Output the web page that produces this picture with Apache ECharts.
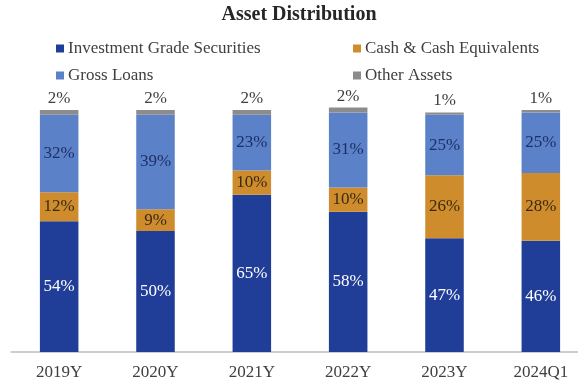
<!DOCTYPE html>
<html>
<head>
<meta charset="utf-8">
<script src="https://cdn.jsdelivr.net/npm/echarts@6/dist/echarts.min.js"></script>
<style>
  html, body { margin: 0; padding: 0; background: #ffffff; overflow: hidden; }
  /* the plot continues a little past the right edge of the page */
  #chart { width: 592px; height: 383px; }
</style>
</head>
<body>
<div id="chart"></div>
<script>
// Asset mix by period, in percent of total assets
const categories = ['2019Y', '2020Y', '2021Y', '2022Y', '2023Y', '2024Q1'];
const investmentGrade = [54, 50, 65, 58, 47, 46];
const cashEquivalents = [12, 9, 10, 10, 26, 28];
const grossLoans = [32, 39, 23, 31, 25, 25];
const otherAssets = [2, 2, 2, 2, 1, 1];

const serif = '"Liberation Serif", "Times New Roman", serif';
const textGrey = '#404040';

const chart = echarts.init(document.getElementById('chart'), null, { renderer: 'canvas' });

function legendItem(name, left, top) {
  return {
    data: [name],
    left: left,
    top: top,
    itemWidth: 8,
    itemHeight: 8,
    itemGap: 0,
    icon: 'rect',
    padding: 0,
    selectedMode: false,
    textStyle: { fontFamily: serif, fontSize: 17, color: textGrey, padding: [0, 0, 0, -1] }
  };
}

function stackSeries(name, data, color, labelColor, position) {
  return {
    name: name,
    type: 'bar',
    stack: 'total',
    data: data,
    barWidth: '40%',
    clip: false,
    itemStyle: { color: color },
    label: {
      show: true,
      position: position,
      distance: 3,
      formatter: '{c}%',
      fontFamily: serif,
      fontSize: 17,
      color: labelColor
    }
  };
}

chart.setOption({
  animation: false,
  backgroundColor: '#ffffff',
  graphic: [{
    type: 'text',
    x: 299,
    y: 5,
    style: {
      text: 'Asset Distribution',
      textAlign: 'center',
      fill: '#262626',
      font: 'bold 20px "Liberation Serif", "Times New Roman", serif'
    }
  }],
  legend: [
    legendItem('Investment Grade Securities', 56, 40),
    legendItem('Cash & Cash Equivalents', 353, 40),
    legendItem('Gross Loans', 56, 67),
    legendItem('Other Assets', 353, 67)
  ],
  grid: { left: 11, width: 578, top: 110, height: 242 },
  xAxis: {
    type: 'category',
    data: categories,
    axisLine: { lineStyle: { color: '#bfbfbf', width: 1.5 } },
    axisTick: { show: false },
    axisLabel: { fontFamily: serif, fontSize: 17, color: textGrey, margin: 12 }
  },
  yAxis: {
    type: 'value',
    min: 0,
    max: 100,
    show: false,
    splitLine: { show: false }
  },
  series: [
    stackSeries('Investment Grade Securities', investmentGrade, '#203d98', '#ffffff', 'inside'),
    stackSeries('Cash & Cash Equivalents', cashEquivalents, '#cf8c2c', '#3a2a12', 'inside'),
    stackSeries('Gross Loans', grossLoans, '#5b82c8', '#1f2f66', 'inside'),
    stackSeries('Other Assets', otherAssets, '#8c8c8c', textGrey, 'top')
  ]
});
</script>
</body>
</html>
